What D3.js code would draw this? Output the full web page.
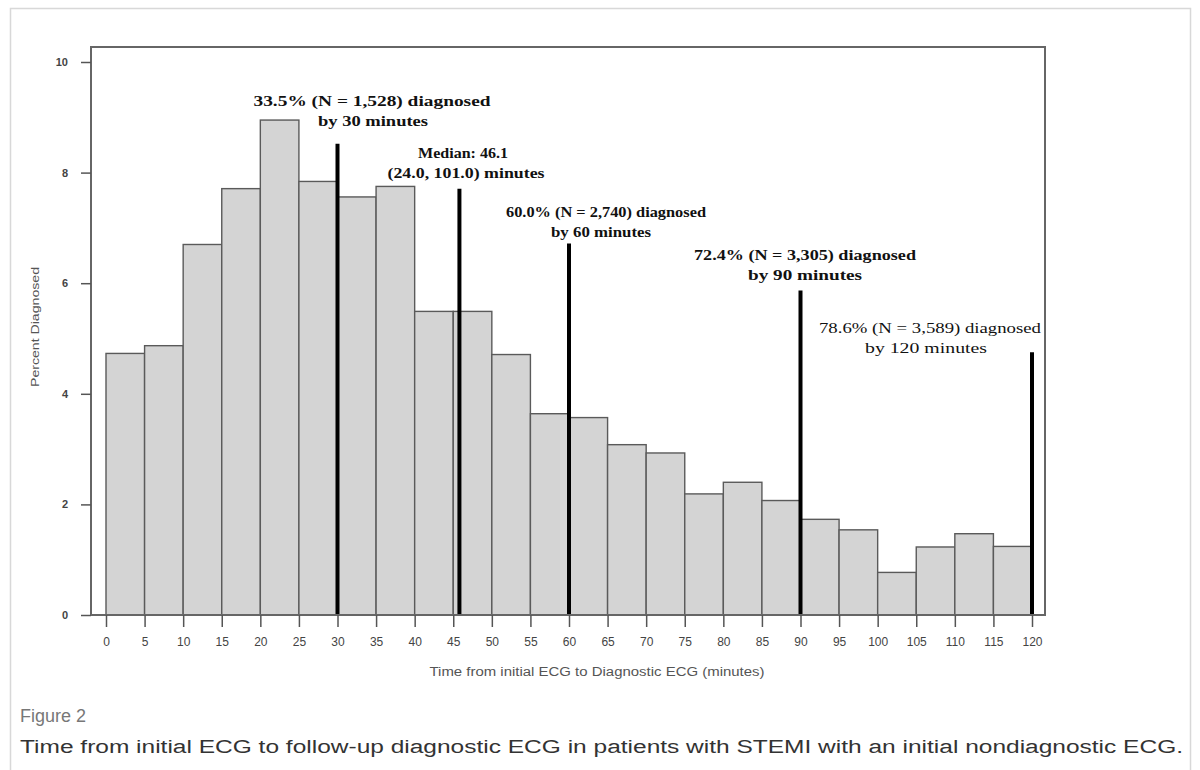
<!DOCTYPE html>
<html>
<head>
<meta charset="utf-8">
<script src="https://cdn.jsdelivr.net/npm/d3@7"></script>
<style>
  html, body { margin: 0; padding: 0; background: #fff; }
  svg { display: block; }
</style>
</head>
<body>
<svg id="chart" width="1200" height="770"></svg>
<script>
// ---- Data ----
const binStarts = [0,5,10,15,20,25,30,35,40,45,50,55,60,65,70,75,80,85,90,95,100,105,110,115];
const percentDiagnosed = [4.73,4.87,6.70,7.71,8.95,7.84,7.56,7.75,5.49,5.49,4.71,3.64,3.57,3.08,2.93,2.19,2.40,2.07,1.73,1.54,0.77,1.23,1.47,1.24];
const binWidth = 5;
const xTicks = [0,5,10,15,20,25,30,35,40,45,50,55,60,65,70,75,80,85,90,95,100,105,110,115,120];
const yTicks = [0,2,4,6,8,10];
const markerTimes = [30, 45.8, 60, 90, 120];
const markerHeights = [8.52, 7.71, 6.72, 5.87, 4.75];
const annotationLines = [
  ["33.5% (N = 1,528) diagnosed", "by 30 minutes"],
  ["Median: 46.1", "(24.0, 101.0) minutes"],
  ["60.0% (N = 2,740) diagnosed", "by 60 minutes"],
  ["72.4% (N = 3,305) diagnosed", "by 90 minutes"],
  ["78.6% (N = 3,589) diagnosed", "by 120 minutes"]
];
const xTitle = "Time from initial ECG to Diagnostic ECG (minutes)";
const yTitle = "Percent Diagnosed";
const figLabel = "Figure 2";
const caption = "Time from initial ECG to follow-up diagnostic ECG in patients with STEMI with an initial nondiagnostic ECG.";

// ---- Layout ----
const svg = d3.select("#chart");
const frame = {left: 91, top: 47, right: 1045, bottom: 615};

const x = d3.scaleLinear().domain([0, 120]).range([106, 1032]);
const y = d3.scaleLinear().domain([0, 10]).range([615, 62]);

// outer light border
svg.append("rect").attr("x", 10.5).attr("y", 8.5).attr("width", 1180).attr("height", 800)
  .attr("fill", "none").attr("stroke", "#d8d8d8").attr("stroke-width", 1.5);

// bars
svg.append("g").selectAll("rect").data(binStarts).join("rect")
  .attr("x", d => x(d))
  .attr("y", (d, i) => y(percentDiagnosed[i]))
  .attr("width", d => x(d + binWidth) - x(d))
  .attr("height", (d, i) => y(0) - y(percentDiagnosed[i]))
  .attr("fill", "#d4d4d4")
  .attr("stroke", "#5a5a5a")
  .attr("stroke-width", 1.4);

// marker lines
svg.append("g").selectAll("line").data(markerTimes).join("line")
  .attr("x1", d => x(d)).attr("x2", d => x(d))
  .attr("y1", y(0)).attr("y2", (d, i) => y(markerHeights[i]))
  .attr("stroke", "#000").attr("stroke-width", 4);

// frame
svg.append("rect")
  .attr("x", frame.left).attr("y", frame.top)
  .attr("width", frame.right - frame.left).attr("height", frame.bottom - frame.top)
  .attr("fill", "none").attr("stroke", "#666").attr("stroke-width", 2);

// x axis
const xAxis = d3.axisBottom(x).tickValues(xTicks).tickSize(12).tickPadding(10);
const gx = svg.append("g").attr("transform", `translate(0,${frame.bottom})`).call(xAxis);
gx.select(".domain").remove();
gx.selectAll(".tick line").attr("stroke", "#555").attr("stroke-width", 1.5);
gx.selectAll(".tick text").attr("font-family", "Liberation Sans, Arial, sans-serif")
  .attr("font-size", 12).attr("fill", "#444");

// y axis
const yAxis = d3.axisLeft(y).tickValues(yTicks).tickSize(10).tickPadding(13);
const gy = svg.append("g").attr("transform", `translate(${frame.left},0)`).call(yAxis);
gy.select(".domain").remove();
gy.selectAll(".tick line").attr("stroke", "#555").attr("stroke-width", 1.5);
gy.selectAll(".tick text").attr("font-family", "Liberation Sans, Arial, sans-serif")
  .attr("font-size", 11).attr("font-weight", "bold").attr("fill", "#444");

// axis titles
svg.append("text").attr("x", 597).attr("y", 676).attr("text-anchor", "middle")
  .attr("font-family", "Liberation Sans, Arial, sans-serif").attr("font-size", 12)
  .attr("textLength", 335).attr("lengthAdjust", "spacingAndGlyphs")
  .attr("fill", "#555").text(xTitle);
svg.append("text").attr("transform", "translate(39,327) rotate(-90)").attr("text-anchor", "middle")
  .attr("font-family", "Liberation Sans, Arial, sans-serif").attr("font-size", 11)
  .attr("textLength", 120).attr("lengthAdjust", "spacingAndGlyphs")
  .attr("fill", "#555").text(yTitle);

// annotations
const annPos = [[372, 106], [463, 158], [606, 217], [805, 260], [930, 333]];
const annCenters2 = [373, 466, 601, 805, 926];
const annWidths = [[237, 110], [90, 157], [200, 100], [222, 114], [222, 122]];
const annWeights = ["bold", "bold", "bold", "bold", "normal"];
annotationLines.forEach((lines, i) => {
  lines.forEach((ln, j) => {
    svg.append("text").attr("text-anchor", "middle")
      .attr("font-family", "Liberation Serif, Times New Roman, serif")
      .attr("font-size", 15).attr("font-weight", annWeights[i]).attr("fill", "#111")
      .attr("x", j === 0 ? annPos[i][0] : annCenters2[i]).attr("y", annPos[i][1] + j * 20)
      .attr("textLength", annWidths[i][j]).attr("lengthAdjust", "spacingAndGlyphs")
      .text(ln);
  });
});

// caption
svg.append("text").attr("x", 20).attr("y", 722)
  .attr("font-family", "Liberation Sans, Arial, sans-serif").attr("font-size", 18)
  .attr("fill", "#777").text(figLabel);
svg.append("text").attr("x", 20).attr("y", 753)
  .attr("font-family", "Liberation Sans, Arial, sans-serif").attr("font-size", 18)
  .attr("fill", "#333").attr("textLength", 1163).attr("lengthAdjust", "spacingAndGlyphs")
  .text(caption);
</script>
</body>
</html>
